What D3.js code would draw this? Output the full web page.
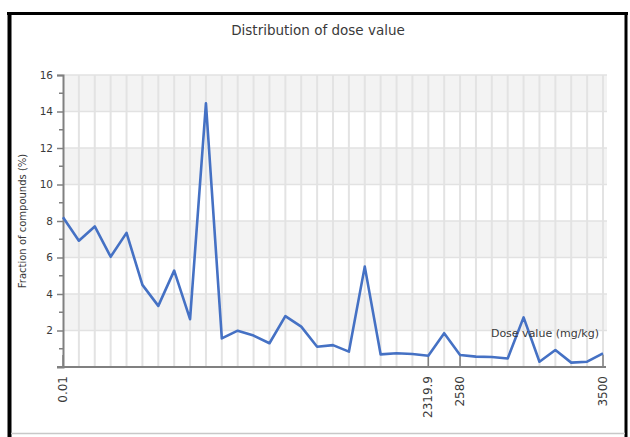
<!DOCTYPE html>
<html>
<head>
<meta charset="utf-8">
<script src="https://cdn.jsdelivr.net/npm/d3@7"></script>
<style>
  html, body { margin: 0; padding: 0; background: #fff; }
  svg { display: block; }
  text { font-family: "DejaVu Sans", Verdana, sans-serif; fill: #3a3a3a; }
</style>
</head>
<body>
<svg id="chart" width="630" height="437"></svg>
<script>
// Share of compounds (%) in each dose bin, ordered by dose
const fractions = [
  8.2, 6.92, 7.7, 6.04, 7.35, 4.5, 3.35, 5.28, 2.62, 14.45,
  1.57, 1.99, 1.72, 1.30, 2.79, 2.21, 1.11, 1.2, 0.84, 5.5,
  0.69, 0.75, 0.71, 0.62, 1.85, 0.66, 0.57, 0.55, 0.47, 2.72,
  0.29, 0.93, 0.24, 0.29, 0.75
];
const bins = d3.range(fractions.length);

// Labelled dose bins on the x axis
const labelledBins = [0, 23, 25, 34];
const doseLabels = ["0.01", "2319.9", "2580", "3500"];

const yMajorTicks = [2, 4, 6, 8, 10, 12, 14, 16];
const yMinorTicks = d3.range(1, 16, 2);
const yBands = [[2, 4], [6, 8], [10, 12], [14, 16]];

const titleText = "Distribution of dose value";
const yTitle = "Fraction of compounds (%)";
const xTitle = "Dose value (mg/kg)";

const svg = d3.select("#chart");
const W = 630, H = 437;
const plot = { left: 63, right: 603, top: 75, bottom: 367 };

const x = d3.scalePoint().domain(bins).range([plot.left, plot.right]);
const y = d3.scaleLinear().domain([0, 16]).range([plot.bottom, plot.top]);

// frame around the figure
svg.append("line").attr("x1", 7).attr("x2", 628).attr("y1", 13.5).attr("y2", 13.5)
  .attr("stroke", "#000").attr("stroke-width", 3);
svg.append("line").attr("x1", 9.5).attr("x2", 9.5).attr("y1", 12).attr("y2", H)
  .attr("stroke", "#000").attr("stroke-width", 4);
svg.append("line").attr("x1", 626).attr("x2", 626).attr("y1", 12).attr("y2", H)
  .attr("stroke", "#000").attr("stroke-width", 3);
svg.append("line").attr("x1", 11).attr("x2", 625).attr("y1", 433.5).attr("y2", 433.5)
  .attr("stroke", "#c8c8c8").attr("stroke-width", 1.5);

// alternating horizontal bands
svg.append("g").selectAll("rect").data(yBands).join("rect")
  .attr("x", plot.left).attr("width", plot.right + 4 - plot.left)
  .attr("y", d => y(d[1])).attr("height", d => y(d[0]) - y(d[1]))
  .attr("fill", "#f3f3f3");

// vertical grid at every bin
svg.append("g").selectAll("line").data(bins.slice(1)).join("line")
  .attr("x1", d => x(d)).attr("x2", d => x(d))
  .attr("y1", plot.top).attr("y2", plot.bottom)
  .attr("stroke", "#e3e3e3").attr("stroke-width", 2);

// horizontal grid at major ticks
svg.append("g").selectAll("line").data(yMajorTicks).join("line")
  .attr("x1", plot.left).attr("x2", plot.right + 4)
  .attr("y1", d => y(d)).attr("y2", d => y(d))
  .attr("stroke", "#e2e2e2").attr("stroke-width", 1.5);

// y axis
const yAxis = svg.append("g").attr("transform", `translate(${plot.left},0)`)
  .call(d3.axisLeft(y).tickValues(yMajorTicks).tickSize(6).tickPadding(4).tickFormat(d3.format("d")));
yAxis.select(".domain").attr("stroke", "#808080").attr("stroke-width", 2);
yAxis.selectAll(".tick line").attr("stroke", "#808080").attr("stroke-width", 1.5);
yAxis.selectAll("text").attr("font-size", 10.5).attr("fill", "#3a3a3a")
  .attr("font-family", "DejaVu Sans, sans-serif");
svg.append("g").selectAll("line").data(yMinorTicks).join("line")
  .attr("x1", plot.left - 4).attr("x2", plot.left)
  .attr("y1", d => y(d)).attr("y2", d => y(d))
  .attr("stroke", "#808080").attr("stroke-width", 1.5);

// x axis
svg.append("line").attr("x1", plot.left - 6).attr("x2", plot.right + 3)
  .attr("y1", plot.bottom).attr("y2", plot.bottom)
  .attr("stroke", "#808080").attr("stroke-width", 2);
const xTicks = svg.append("g").selectAll("g").data(labelledBins).join("g")
  .attr("transform", d => `translate(${x(d)},${plot.bottom})`);
xTicks.append("line").attr("y1", -12).attr("y2", 0)
  .attr("stroke", "#808080").attr("stroke-width", 1.5);
xTicks.append("text")
  .attr("transform", "rotate(-90)")
  .attr("x", -9).attr("dy", "0.35em")
  .attr("text-anchor", "end")
  .attr("font-size", 12)
  .text((d, i) => doseLabels[i]);

// data line
svg.append("path").datum(fractions)
  .attr("fill", "none")
  .attr("stroke", "#4571c4")
  .attr("stroke-width", 2.6)
  .attr("stroke-linejoin", "round")
  .attr("d", d3.line().x((d, i) => x(bins[i])).y(d => y(d)));

// titles
svg.append("text").attr("x", 318).attr("y", 35)
  .attr("text-anchor", "middle").attr("font-size", 13.5).text(titleText);
svg.append("text")
  .attr("transform", `translate(26,${(plot.top + plot.bottom) / 2}) rotate(-90)`)
  .attr("text-anchor", "middle").attr("font-size", 10).text(yTitle);
svg.append("text").attr("x", 599).attr("y", 337)
  .attr("text-anchor", "end").attr("font-size", 11).text(xTitle);
</script>
</body>
</html>
